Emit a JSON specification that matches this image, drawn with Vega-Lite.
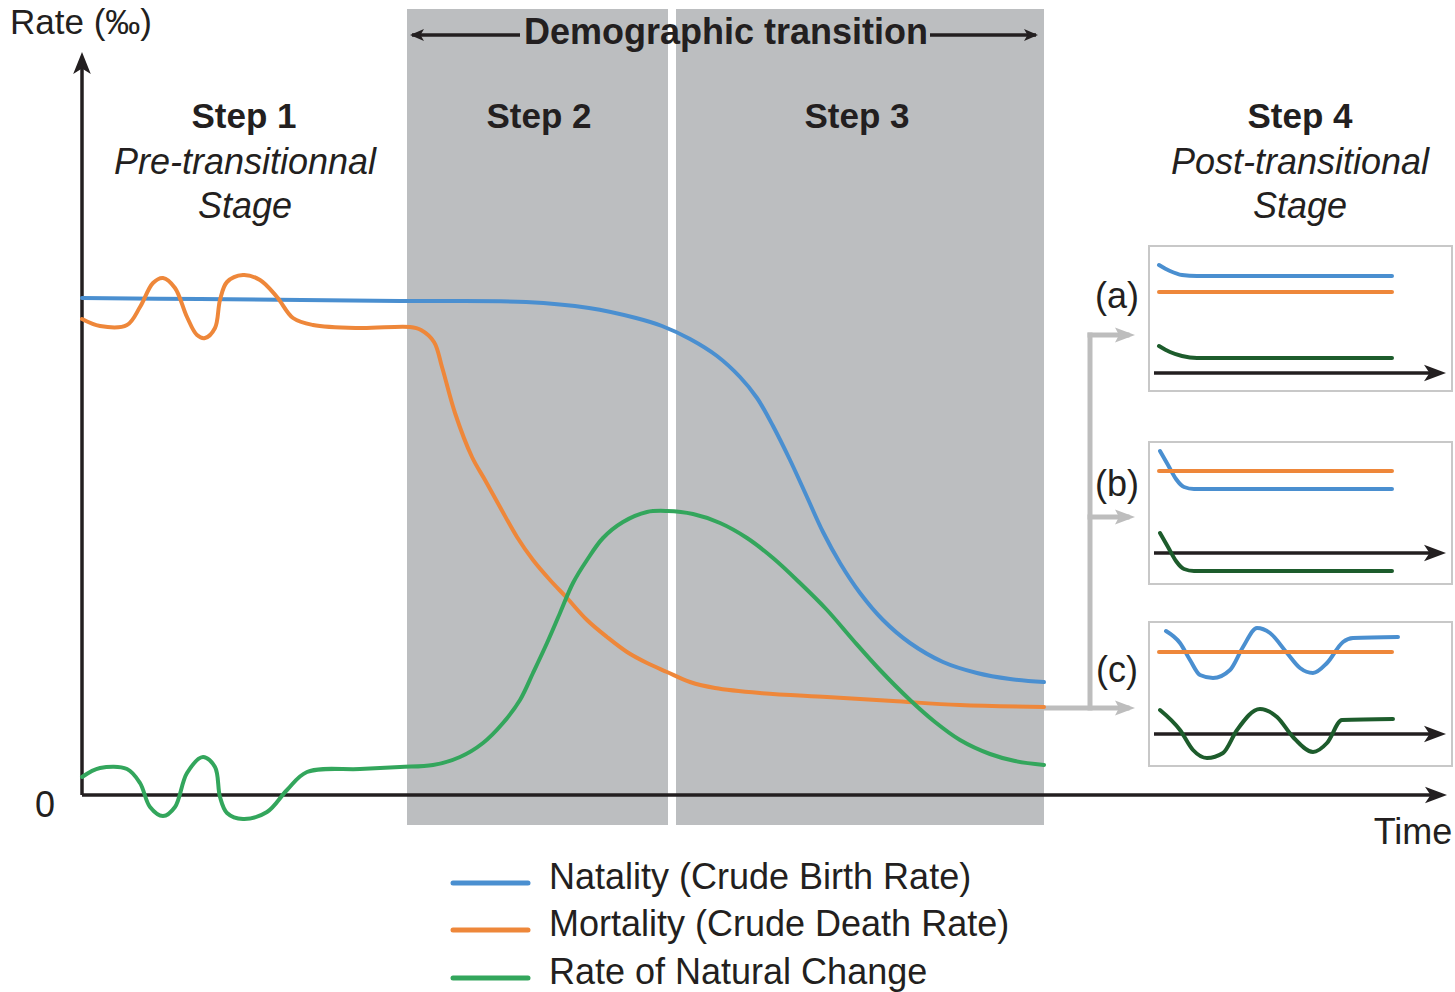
{
 "$schema": "https://vega.github.io/schema/vega-lite/v6.json",
 "width": 1455, "height": 992, "padding": 0, "autosize": {"type": "none"},
 "background": "white",
 "config": {"view": {"stroke": null}, "text": {"font": "Liberation Sans", "color": "#231f20"}},
 "datasets": {
  "bands": [{"t": 325, "r": -30, "t2": 586, "r2": 786}, {"t": 594, "r": -30, "t2": 962, "r2": 786}],
  "boxes": [{"t": 1067, "r": 549, "t2": 1370, "r2": 404}, {"t": 1067, "r": 353, "t2": 1370, "r2": 211}, {"t": 1067, "r": 173, "t2": 1370, "r2": 29}],
  "connectors": [{"t": 1008, "r": 460, "t2": 1008, "r2": 87}, {"t": 1008, "r": 460, "t2": 1045, "r2": 460}, {"t": 1008, "r": 278, "t2": 1045, "r2": 278}, {"t": 962, "r": 87, "t2": 1045, "r2": 87}],
  "grayheads": [{"t": 1053, "r": 460}, {"t": 1053, "r": 278}, {"t": 1053, "r": 87}],
  "blackrules": [{"t": 0, "r": 0, "t2": 1355, "r2": 0}, {"t": 0, "r": 0, "t2": 0, "r2": 733}, {"t": 1072, "r": 422, "t2": 1352, "r2": 422}, {"t": 1072, "r": 242, "t2": 1352, "r2": 242}, {"t": 1072, "r": 61, "t2": 1352, "r2": 61}, {"t": 330, "r": 760, "t2": 438, "r2": 760}, {"t": 848, "r": 760, "t2": 954, "r2": 760}],
  "bigright": [{"t": 1365, "r": 0}, {"t": 1364, "r": 422}, {"t": 1364, "r": 242}, {"t": 1364, "r": 61}],
  "up": [{"t": 0, "r": 743}],
  "smallright": [{"t": 956, "r": 760}],
  "smallleft": [{"t": 328, "r": 760}],
  "curves": [
   {"id": "m_b", "s": "birth", "t": 0, "r": 497}, {"id": "m_b", "s": "birth", "t": 118, "r": 496}, {"id": "m_b", "s": "birth", "t": 318, "r": 494}, {"id": "m_b", "s": "birth", "t": 444, "r": 493}, {"id": "m_b", "s": "birth", "t": 507, "r": 487}, {"id": "m_b", "s": "birth", "t": 554, "r": 477}, {"id": "m_b", "s": "birth", "t": 580, "r": 469}, {"id": "m_b", "s": "birth", "t": 608, "r": 456}, {"id": "m_b", "s": "birth", "t": 635, "r": 439}, {"id": "m_b", "s": "birth", "t": 658, "r": 418}, {"id": "m_b", "s": "birth", "t": 675, "r": 397}, {"id": "m_b", "s": "birth", "t": 691, "r": 369}, {"id": "m_b", "s": "birth", "t": 708, "r": 335}, {"id": "m_b", "s": "birth", "t": 725, "r": 298}, {"id": "m_b", "s": "birth", "t": 741, "r": 263}, {"id": "m_b", "s": "birth", "t": 758, "r": 232}, {"id": "m_b", "s": "birth", "t": 778, "r": 202}, {"id": "m_b", "s": "birth", "t": 801, "r": 175}, {"id": "m_b", "s": "birth", "t": 828, "r": 152}, {"id": "m_b", "s": "birth", "t": 861, "r": 133}, {"id": "m_b", "s": "birth", "t": 895, "r": 122}, {"id": "m_b", "s": "birth", "t": 928, "r": 116}, {"id": "m_b", "s": "birth", "t": 962, "r": 113},
   {"id": "m_d", "s": "death", "t": 0, "r": 476}, {"id": "m_d", "s": "death", "t": 18, "r": 469}, {"id": "m_d", "s": "death", "t": 45, "r": 470}, {"id": "m_d", "s": "death", "t": 58, "r": 488}, {"id": "m_d", "s": "death", "t": 71, "r": 512}, {"id": "m_d", "s": "death", "t": 81, "r": 517}, {"id": "m_d", "s": "death", "t": 93, "r": 507}, {"id": "m_d", "s": "death", "t": 105, "r": 478}, {"id": "m_d", "s": "death", "t": 115, "r": 460}, {"id": "m_d", "s": "death", "t": 123, "r": 457}, {"id": "m_d", "s": "death", "t": 133, "r": 467}, {"id": "m_d", "s": "death", "t": 138, "r": 495}, {"id": "m_d", "s": "death", "t": 145, "r": 513}, {"id": "m_d", "s": "death", "t": 161, "r": 520}, {"id": "m_d", "s": "death", "t": 178, "r": 515}, {"id": "m_d", "s": "death", "t": 195, "r": 498}, {"id": "m_d", "s": "death", "t": 211, "r": 477}, {"id": "m_d", "s": "death", "t": 231, "r": 470}, {"id": "m_d", "s": "death", "t": 278, "r": 467}, {"id": "m_d", "s": "death", "t": 328, "r": 468}, {"id": "m_d", "s": "death", "t": 339, "r": 465}, {"id": "m_d", "s": "death", "t": 352, "r": 453}, {"id": "m_d", "s": "death", "t": 360, "r": 428}, {"id": "m_d", "s": "death", "t": 373, "r": 382}, {"id": "m_d", "s": "death", "t": 390, "r": 338}, {"id": "m_d", "s": "death", "t": 403, "r": 315}, {"id": "m_d", "s": "death", "t": 418, "r": 288}, {"id": "m_d", "s": "death", "t": 435, "r": 258}, {"id": "m_d", "s": "death", "t": 451, "r": 235}, {"id": "m_d", "s": "death", "t": 468, "r": 215}, {"id": "m_d", "s": "death", "t": 485, "r": 197}, {"id": "m_d", "s": "death", "t": 505, "r": 175}, {"id": "m_d", "s": "death", "t": 525, "r": 158}, {"id": "m_d", "s": "death", "t": 545, "r": 143}, {"id": "m_d", "s": "death", "t": 565, "r": 132}, {"id": "m_d", "s": "death", "t": 585, "r": 123}, {"id": "m_d", "s": "death", "t": 608, "r": 113}, {"id": "m_d", "s": "death", "t": 633, "r": 107}, {"id": "m_d", "s": "death", "t": 678, "r": 102}, {"id": "m_d", "s": "death", "t": 745, "r": 98}, {"id": "m_d", "s": "death", "t": 811, "r": 94}, {"id": "m_d", "s": "death", "t": 878, "r": 90}, {"id": "m_d", "s": "death", "t": 962, "r": 88},
   {"id": "m_n", "s": "natural", "t": 0, "r": 18}, {"id": "m_n", "s": "natural", "t": 18, "r": 27}, {"id": "m_n", "s": "natural", "t": 45, "r": 26}, {"id": "m_n", "s": "natural", "t": 58, "r": 12}, {"id": "m_n", "s": "natural", "t": 68, "r": -12}, {"id": "m_n", "s": "natural", "t": 81, "r": -21}, {"id": "m_n", "s": "natural", "t": 93, "r": -12}, {"id": "m_n", "s": "natural", "t": 105, "r": 22}, {"id": "m_n", "s": "natural", "t": 121, "r": 38}, {"id": "m_n", "s": "natural", "t": 133, "r": 28}, {"id": "m_n", "s": "natural", "t": 138, "r": -2}, {"id": "m_n", "s": "natural", "t": 145, "r": -18}, {"id": "m_n", "s": "natural", "t": 161, "r": -24}, {"id": "m_n", "s": "natural", "t": 185, "r": -17}, {"id": "m_n", "s": "natural", "t": 205, "r": 5}, {"id": "m_n", "s": "natural", "t": 225, "r": 23}, {"id": "m_n", "s": "natural", "t": 278, "r": 26}, {"id": "m_n", "s": "natural", "t": 318, "r": 28}, {"id": "m_n", "s": "natural", "t": 351, "r": 30}, {"id": "m_n", "s": "natural", "t": 378, "r": 38}, {"id": "m_n", "s": "natural", "t": 401, "r": 52}, {"id": "m_n", "s": "natural", "t": 421, "r": 72}, {"id": "m_n", "s": "natural", "t": 438, "r": 95}, {"id": "m_n", "s": "natural", "t": 451, "r": 122}, {"id": "m_n", "s": "natural", "t": 465, "r": 152}, {"id": "m_n", "s": "natural", "t": 478, "r": 182}, {"id": "m_n", "s": "natural", "t": 491, "r": 212}, {"id": "m_n", "s": "natural", "t": 505, "r": 235}, {"id": "m_n", "s": "natural", "t": 521, "r": 257}, {"id": "m_n", "s": "natural", "t": 541, "r": 273}, {"id": "m_n", "s": "natural", "t": 565, "r": 283}, {"id": "m_n", "s": "natural", "t": 585, "r": 284}, {"id": "m_n", "s": "natural", "t": 611, "r": 281}, {"id": "m_n", "s": "natural", "t": 638, "r": 272}, {"id": "m_n", "s": "natural", "t": 665, "r": 257}, {"id": "m_n", "s": "natural", "t": 691, "r": 237}, {"id": "m_n", "s": "natural", "t": 718, "r": 212}, {"id": "m_n", "s": "natural", "t": 745, "r": 185}, {"id": "m_n", "s": "natural", "t": 771, "r": 155}, {"id": "m_n", "s": "natural", "t": 798, "r": 125}, {"id": "m_n", "s": "natural", "t": 828, "r": 95}, {"id": "m_n", "s": "natural", "t": 853, "r": 73}, {"id": "m_n", "s": "natural", "t": 878, "r": 55}, {"id": "m_n", "s": "natural", "t": 908, "r": 41}, {"id": "m_n", "s": "natural", "t": 933, "r": 34}, {"id": "m_n", "s": "natural", "t": 962, "r": 30}
  ],
  "insetcurves": [
   {"id": "a_b", "s": "birth", "t": 1077, "r": 530}, {"id": "a_b", "s": "birth", "t": 1088, "r": 524}, {"id": "a_b", "s": "birth", "t": 1100, "r": 520}, {"id": "a_b", "s": "birth", "t": 1115, "r": 519}, {"id": "a_b", "s": "birth", "t": 1310, "r": 519},
   {"id": "a_d", "s": "death", "t": 1077, "r": 503}, {"id": "a_d", "s": "death", "t": 1310, "r": 503},
   {"id": "a_n", "s": "natural_inset", "t": 1077, "r": 449}, {"id": "a_n", "s": "natural_inset", "t": 1088, "r": 443}, {"id": "a_n", "s": "natural_inset", "t": 1100, "r": 439}, {"id": "a_n", "s": "natural_inset", "t": 1115, "r": 437}, {"id": "a_n", "s": "natural_inset", "t": 1310, "r": 437},
   {"id": "b_b", "s": "birth", "t": 1078, "r": 344}, {"id": "b_b", "s": "birth", "t": 1086, "r": 330}, {"id": "b_b", "s": "birth", "t": 1094, "r": 316}, {"id": "b_b", "s": "birth", "t": 1102, "r": 308}, {"id": "b_b", "s": "birth", "t": 1112, "r": 306}, {"id": "b_b", "s": "birth", "t": 1310, "r": 306},
   {"id": "b_d", "s": "death", "t": 1077, "r": 324}, {"id": "b_d", "s": "death", "t": 1310, "r": 324},
   {"id": "b_n", "s": "natural_inset", "t": 1078, "r": 262}, {"id": "b_n", "s": "natural_inset", "t": 1086, "r": 248}, {"id": "b_n", "s": "natural_inset", "t": 1094, "r": 234}, {"id": "b_n", "s": "natural_inset", "t": 1102, "r": 226}, {"id": "b_n", "s": "natural_inset", "t": 1112, "r": 224}, {"id": "b_n", "s": "natural_inset", "t": 1310, "r": 224},
   {"id": "c_b", "s": "birth", "t": 1084, "r": 164}, {"id": "c_b", "s": "birth", "t": 1098, "r": 152}, {"id": "c_b", "s": "birth", "t": 1108, "r": 135}, {"id": "c_b", "s": "birth", "t": 1118, "r": 120}, {"id": "c_b", "s": "birth", "t": 1131, "r": 117}, {"id": "c_b", "s": "birth", "t": 1148, "r": 125}, {"id": "c_b", "s": "birth", "t": 1161, "r": 148}, {"id": "c_b", "s": "birth", "t": 1175, "r": 167}, {"id": "c_b", "s": "birth", "t": 1188, "r": 162}, {"id": "c_b", "s": "birth", "t": 1205, "r": 142}, {"id": "c_b", "s": "birth", "t": 1218, "r": 127}, {"id": "c_b", "s": "birth", "t": 1231, "r": 122}, {"id": "c_b", "s": "birth", "t": 1245, "r": 132}, {"id": "c_b", "s": "birth", "t": 1261, "r": 153}, {"id": "c_b", "s": "birth", "t": 1271, "r": 157}, {"id": "c_b", "s": "birth", "t": 1316, "r": 158},
   {"id": "c_d", "s": "death", "t": 1077, "r": 143}, {"id": "c_d", "s": "death", "t": 1310, "r": 143},
   {"id": "c_n", "s": "natural_inset", "t": 1078, "r": 85}, {"id": "c_n", "s": "natural_inset", "t": 1098, "r": 65}, {"id": "c_n", "s": "natural_inset", "t": 1111, "r": 45}, {"id": "c_n", "s": "natural_inset", "t": 1125, "r": 37}, {"id": "c_n", "s": "natural_inset", "t": 1141, "r": 42}, {"id": "c_n", "s": "natural_inset", "t": 1155, "r": 65}, {"id": "c_n", "s": "natural_inset", "t": 1178, "r": 86}, {"id": "c_n", "s": "natural_inset", "t": 1195, "r": 78}, {"id": "c_n", "s": "natural_inset", "t": 1211, "r": 58}, {"id": "c_n", "s": "natural_inset", "t": 1231, "r": 43}, {"id": "c_n", "s": "natural_inset", "t": 1245, "r": 52}, {"id": "c_n", "s": "natural_inset", "t": 1260, "r": 75}, {"id": "c_n", "s": "natural_inset", "t": 1311, "r": 76}
  ],
  "legendlines": [{"s": "birth", "t": 371, "t2": 446, "r": -88}, {"s": "death", "t": 371, "t2": 446, "r": -135}, {"s": "natural", "t": 371, "t2": 446, "r": -183}],
  "titletext": [{"label": "Demographic transition", "t": 644, "r": 762}],
  "boldtext": [{"label": "Step 1", "t": 162, "r": 678}, {"label": "Step 2", "t": 457, "r": 678}, {"label": "Step 3", "t": 775, "r": 678}, {"label": "Step 4", "t": 1218, "r": 678}],
  "italictext": [{"label": "Pre-transitionnal", "t": 163, "r": 632}, {"label": "Stage", "t": 163, "r": 588}, {"label": "Post-transitional", "t": 1218, "r": 632}, {"label": "Stage", "t": 1218, "r": 588}],
  "centertext": [{"label": "(a)", "t": 1035, "r": 498}, {"label": "(b)", "t": 1035, "r": 310}, {"label": "(c)", "t": 1035, "r": 124}, {"label": "0", "t": -37, "r": -11}, {"label": "Time", "t": 1331, "r": -38}],
  "ratetext": [{"label": "Rate (‰)", "t": -72, "r": 772}],
  "lefttext": [{"label": "Natality (Crude Birth Rate)", "t": 467, "r": -83}, {"label": "Mortality (Crude Death Rate)", "t": 467, "r": -130}, {"label": "Rate of Natural Change", "t": 467, "r": -178}]
 },
 "encoding": {
  "x": {"field": "t", "type": "quantitative", "scale": {"domain": [-82, 1373], "nice": false, "zero": false}, "axis": null},
  "y": {"field": "r", "type": "quantitative", "scale": {"domain": [-197, 795], "nice": false, "zero": false}, "axis": null}
 },
 "layer": [
  {"data": {"name": "bands"}, "mark": {"type": "rect", "color": "#bcbec0"}, "encoding": {"x2": {"field": "t2"}, "y2": {"field": "r2"}}},
  {"data": {"name": "boxes"}, "mark": {"type": "rect", "fill": "white", "stroke": "#c8c8c8", "strokeWidth": 2}, "encoding": {"x2": {"field": "t2"}, "y2": {"field": "r2"}}},
  {"data": {"name": "connectors"}, "mark": {"type": "rule", "color": "#bdbdbd", "strokeWidth": 5, "strokeCap": "square"}, "encoding": {"x2": {"field": "t2"}, "y2": {"field": "r2"}}},
  {"data": {"name": "grayheads"}, "mark": {"type": "point", "shape": "M0,0 L-2,-0.75 L-1.6,0 L-2,0.75 Z", "size": 400, "filled": true, "color": "#bdbdbd", "opacity": 1}},
  {"data": {"name": "blackrules"}, "mark": {"type": "rule", "color": "#231f20", "strokeWidth": 3.5}, "encoding": {"x2": {"field": "t2"}, "y2": {"field": "r2"}}},
  {"data": {"name": "bigright"}, "mark": {"type": "point", "shape": "M0,0 L-2,-0.75 L-1.5,0 L-2,0.75 Z", "size": 484, "filled": true, "color": "#231f20", "opacity": 1}},
  {"data": {"name": "up"}, "mark": {"type": "point", "shape": "M0,0 L-0.8,2 L0,1.5 L0.8,2 Z", "size": 484, "filled": true, "color": "#231f20", "opacity": 1}},
  {"data": {"name": "smallright"}, "mark": {"type": "point", "shape": "M0,0 L-2,-0.85 L-1.5,0 L-2,0.85 Z", "size": 196, "filled": true, "color": "#231f20", "opacity": 1}},
  {"data": {"name": "smallleft"}, "mark": {"type": "point", "shape": "M0,0 L2,-0.85 L1.5,0 L2,0.85 Z", "size": 196, "filled": true, "color": "#231f20", "opacity": 1}},
  {"data": {"name": "curves"}, "mark": {"type": "line", "interpolate": "catmull-rom", "strokeWidth": 4, "strokeCap": "round", "strokeJoin": "round"},
   "encoding": {"detail": {"field": "id"}, "color": {"field": "s", "type": "nominal", "scale": {"domain": ["birth", "death", "natural", "natural_inset"], "range": ["#4a8fd0", "#ee873a", "#33a65c", "#1d5c2c"]}, "legend": null}}},
  {"data": {"name": "insetcurves"}, "mark": {"type": "line", "interpolate": "monotone", "strokeWidth": 4, "strokeCap": "round", "strokeJoin": "round"},
   "encoding": {"detail": {"field": "id"}, "color": {"field": "s", "type": "nominal", "scale": {"domain": ["birth", "death", "natural", "natural_inset"], "range": ["#4a8fd0", "#ee873a", "#33a65c", "#1d5c2c"]}, "legend": null}}},
  {"data": {"name": "legendlines"}, "mark": {"type": "rule", "strokeWidth": 5, "strokeCap": "round"},
   "encoding": {"x2": {"field": "t2"}, "color": {"field": "s", "type": "nominal", "scale": {"domain": ["birth", "death", "natural", "natural_inset"], "range": ["#4a8fd0", "#ee873a", "#33a65c", "#1d5c2c"]}, "legend": null}}},
  {"data": {"name": "titletext"}, "mark": {"type": "text", "fontSize": 36, "fontWeight": "bold", "align": "center", "baseline": "middle"}, "encoding": {"text": {"field": "label"}}},
  {"data": {"name": "boldtext"}, "mark": {"type": "text", "fontSize": 35, "fontWeight": "bold", "align": "center", "baseline": "middle"}, "encoding": {"text": {"field": "label"}}},
  {"data": {"name": "italictext"}, "mark": {"type": "text", "fontSize": 36, "fontStyle": "italic", "align": "center", "baseline": "middle"}, "encoding": {"text": {"field": "label"}}},
  {"data": {"name": "centertext"}, "mark": {"type": "text", "fontSize": 36, "align": "center", "baseline": "middle"}, "encoding": {"text": {"field": "label"}}},
  {"data": {"name": "ratetext"}, "mark": {"type": "text", "fontSize": 35, "align": "left", "baseline": "middle"}, "encoding": {"text": {"field": "label"}}},
  {"data": {"name": "lefttext"}, "mark": {"type": "text", "fontSize": 36, "align": "left", "baseline": "middle"}, "encoding": {"text": {"field": "label"}}}
 ]
}
